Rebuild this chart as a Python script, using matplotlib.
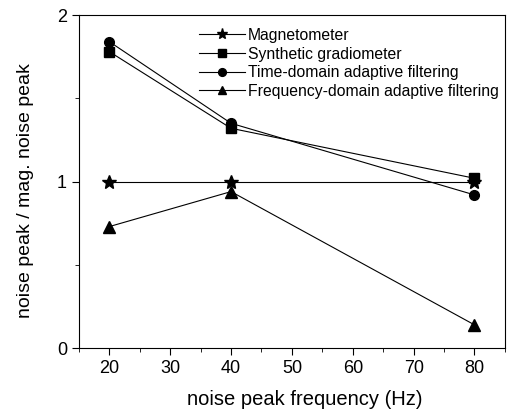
import matplotlib
matplotlib.use("Agg")
import matplotlib.pyplot as plt
from matplotlib.ticker import MultipleLocator

plt.rcParams['font.family'] = ['Liberation Sans', 'DejaVu Sans']

freq = [20, 40, 80]
magnetometer = [1.00, 1.00, 1.00]
gradiometer = [1.78, 1.32, 1.02]
time_domain = [1.84, 1.35, 0.92]
freq_domain = [0.73, 0.94, 0.14]
labels = ["Magnetometer", "Synthetic gradiometer",
          "Time-domain adaptive filtering", "Frequency-domain adaptive filtering"]

fig = plt.figure(figsize=(5.09, 4.17), dpi=100)
ax = fig.add_axes([0.155, 0.165, 0.837, 0.799])

ax.plot(freq, magnetometer, color='black', lw=0.8, marker='*', ms=10, label=labels[0])
ax.plot(freq, gradiometer, color='black', lw=0.8, marker='s', ms=7, label=labels[1])
ax.plot(freq, time_domain, color='black', lw=0.8, marker='o', ms=7, label=labels[2])
ax.plot(freq, freq_domain, color='black', lw=0.8, marker='^', ms=8, label=labels[3])

ax.set_xlim(15, 85)
ax.set_ylim(0, 2)
ax.set_xticks([20, 30, 40, 50, 60, 70, 80])
ax.set_yticks([0, 1, 2])
ax.xaxis.set_minor_locator(MultipleLocator(5))
ax.yaxis.set_minor_locator(MultipleLocator(0.5))
ax.tick_params(which='major', direction='out', length=5, labelsize=13)
ax.tick_params(which='minor', direction='out', length=3)
ax.set_xlabel("noise peak frequency (Hz)", fontsize=14.5)
ax.set_ylabel("noise peak / mag. noise peak", fontsize=14)
ax.xaxis.set_label_coords(0.53, -0.125)
ax.yaxis.set_label_coords(-0.106, 0.474)

ax.legend(loc='upper right', frameon=False, fontsize=11.3, handlelength=2.9,
          handletextpad=0.2, labelspacing=0.23, borderaxespad=0.0,
          bbox_to_anchor=(1.0, 0.98), markerscale=0.8)

fig.savefig("out.png", dpi=100)
